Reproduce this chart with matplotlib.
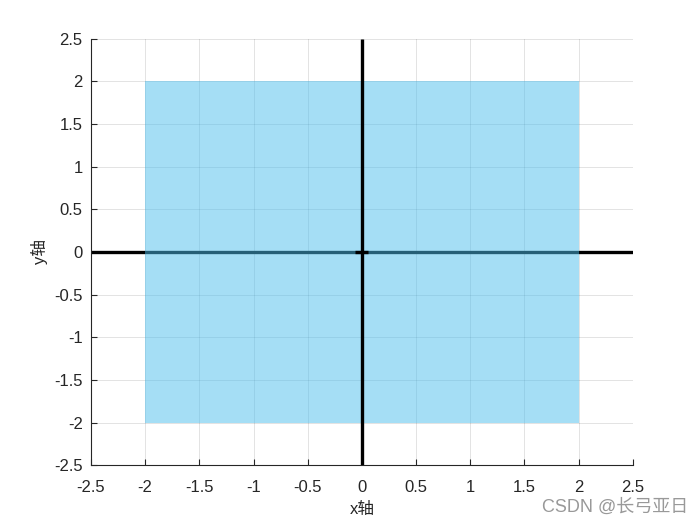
import matplotlib
matplotlib.use('Agg')
import matplotlib.pyplot as plt
import numpy as np

plt.rcParams['font.family'] = ['Liberation Sans', 'Noto Sans CJK SC', 'DejaVu Sans']
plt.rcParams['axes.unicode_minus'] = False

# square corners
rect_x = [-2, 2, 2, -2]
rect_y = [-2, -2, 2, 2]
axis_span = [-2.5, 2.5]
ticks = [-2.5, -2, -1.5, -1, -0.5, 0, 0.5, 1, 1.5, 2, 2.5]
tick_labels = ['-2.5', '-2', '-1.5', '-1', '-0.5', '0', '0.5', '1', '1.5', '2', '2.5']

fig = plt.figure(figsize=(7, 5.25), dpi=100)
ax = fig.add_axes([0.13, 0.114, 0.774, 0.812])

# x axis line (under the fill), y axis line (over it)
ax.plot(axis_span, [0, 0], color='black', linewidth=2.4, zorder=1, solid_capstyle='butt')
ax.fill(rect_x, rect_y, color=(0.3, 0.75, 0.93), alpha=0.5, linewidth=0, zorder=2)
ax.plot([0, 0], axis_span, color='black', linewidth=2.4, zorder=3, solid_capstyle='butt')
ax.plot([-0.06, 0.06], [0, 0], color='black', linewidth=2.4, zorder=3, solid_capstyle='butt')

ax.set_xlim(-2.5, 2.5)
ax.set_ylim(-2.5, 2.5)
ax.set_xticks(ticks)
ax.set_xticklabels(tick_labels)
ax.set_yticks(ticks)
ax.set_yticklabels(tick_labels)
ax.tick_params(direction='in', length=4, labelsize=12, colors='#262626', width=0.8)
ax.tick_params(axis='x', pad=11)
ax.tick_params(axis='y', pad=6)
ax.grid(True, color='black', alpha=0.13, linewidth=0.6, zorder=0)
ax.set_axisbelow(True)

for side in ['top', 'right']:
    ax.spines[side].set_visible(False)
for side in ['left', 'bottom']:
    ax.spines[side].set_color('#262626')
    ax.spines[side].set_linewidth(0.8)
    ax.spines[side].set_zorder(4)

ax.set_xlabel('x轴', fontsize=12, color='#262626', labelpad=5)
ax.set_ylabel('y轴', fontsize=12, color='#262626', labelpad=4)

fig.text(0.983, 0.018, 'CSDN @长弓亚日', ha='right', va='bottom', fontsize=13, color='#999999')

fig.savefig('out.png', dpi=100)
